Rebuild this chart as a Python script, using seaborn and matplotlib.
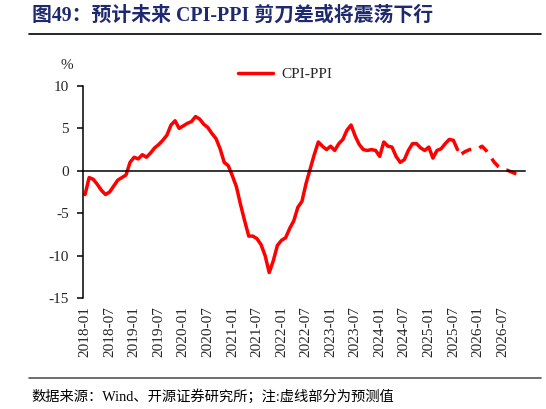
import numpy as np
import pandas as pd
import matplotlib
matplotlib.use("Agg")
import matplotlib.pyplot as plt
import seaborn as sns

# 月份：2018-01 ~ 2026-11
months = pd.date_range("2018-01-01", "2026-11-01", freq="MS").strftime("%Y-%m").tolist()

# CPI-PPI 实际值（2018-01 ~ 2025-08）
actual = [
    -2.8, -0.8, -1.0, -1.6, -2.3, -2.8, -2.5, -1.8, -1.1, -0.8, -0.5, 1.0,
    1.6, 1.4, 1.9, 1.6, 2.1, 2.7, 3.1, 3.6, 4.2, 5.4, 5.9, 5.0,
    5.3, 5.6, 5.8, 6.4, 6.1, 5.5, 5.1, 4.4, 3.8, 2.6, 1.0, 0.6,
    -0.6, -1.9, -4.0, -5.9, -7.7, -7.7, -8.0, -8.7, -10.0, -12.0, -10.6, -8.8,
    -8.2, -7.9, -6.8, -5.9, -4.3, -3.6, -1.5, 0.2, 1.9, 3.4, 2.9, 2.5,
    2.9, 2.4, 3.2, 3.7, 4.8, 5.4, 4.1, 3.1, 2.5, 2.4, 2.5, 2.4,
    1.7, 3.4, 2.9, 2.8, 1.7, 1.0, 1.3, 2.4, 3.2, 3.2, 2.7, 2.4,
    2.8, 1.5, 2.4, 2.6, 3.2, 3.7, 3.6, 2.5,
]
# 预测值（2025-09 ~ 2026-11）
forecast = [2.0, 2.3, 2.5, 2.6, 2.6, 2.9, 2.4, 1.7, 1.0, 0.5, 0.2, 0.1, -0.1, -0.3, -0.4]

tick_labels = months[::6]

df_a = pd.DataFrame({"x": np.arange(len(actual)) + 0.5, "v": actual})
df_f = pd.DataFrame({"x": np.arange(len(actual), len(actual) + len(forecast)) + 0.5, "v": forecast})

sns.set_style("white")
plt.rcParams["font.family"] = ["Liberation Serif", "Noto Sans CJK SC"]
plt.rcParams["axes.unicode_minus"] = False

fig = plt.figure(figsize=(5.46, 4.09), dpi=100)
ax = fig.add_axes([83 / 546, 1 - 298 / 409, (525 - 83) / 546, (298 - 86) / 409])

sns.lineplot(data=df_a, x="x", y="v", ax=ax, color="#FF0000", lw=2.5,
             solid_capstyle="round", solid_joinstyle="round", label="CPI-PPI")
sns.lineplot(data=df_f, x="x", y="v", ax=ax, color="#FF0000", lw=2.5,
             linestyle=(0, (3.1, 2.4)), dash_capstyle="butt", legend=False)

ax.set_xlim(0, len(months) + 1)
ax.set_ylim(-15, 10)
ax.set_yticks([10, 5, 0, -5, -10, -15])
ax.set_yticklabels(["10", "5", "0", "-5", "-10", "-15"], fontsize=11)
ax.set_xlabel("")
ax.set_ylabel("")

for s in ["top", "right"]:
    ax.spines[s].set_visible(False)
ax.spines["bottom"].set_position(("data", 0))
ax.spines["left"].set_color("black")
ax.spines["bottom"].set_color("black")
ax.spines["left"].set_linewidth(1.1)
ax.spines["bottom"].set_linewidth(1.1)

ax.set_xticks(np.arange(0, len(months) + 2, 6))
ax.tick_params(axis="x", direction="out", length=4, width=1.1, color="black", labelbottom=False)
ax.tick_params(axis="y", direction="out", length=4, width=1.1, color="black", pad=6, left=True)

sec = ax.secondary_xaxis("bottom")
sec.set_xticks(np.arange(0, len(months), 6) + 0.5)
sec.set_xticklabels(tick_labels, rotation=90, fontsize=11)
sec.tick_params(length=0, pad=6)
sec.spines["bottom"].set_visible(False)

ax.text(-4, 12.4, "%", fontsize=11, ha="center", va="center")

leg = ax.legend(loc="upper left", bbox_to_anchor=(0.32, 1.152), frameon=False,
                fontsize=11, handlelength=2.3, handletextpad=0.5)

fig.text(32 / 546, 1 - 16 / 409, "图49：预计未来 CPI-PPI 剪刀差或将震荡下行",
         fontsize=14.3, fontweight="bold", color="#1F2A6E", ha="left", va="center")
fig.add_artist(plt.Line2D([29 / 546, 541 / 546], [1 - 34 / 409, 1 - 34 / 409],
                          color="black", lw=1.2))
fig.add_artist(plt.Line2D([29 / 546, 541 / 546], [1 - 378 / 409, 1 - 378 / 409],
                          color="#555555", lw=1.2))
fig.text(31 / 546, 1 - 396 / 409, "数据来源：Wind、开源证券研究所；注:虚线部分为预测值",
         fontsize=10.3, color="black", ha="left", va="center")

fig.savefig("out.png", dpi=100, facecolor="white")
